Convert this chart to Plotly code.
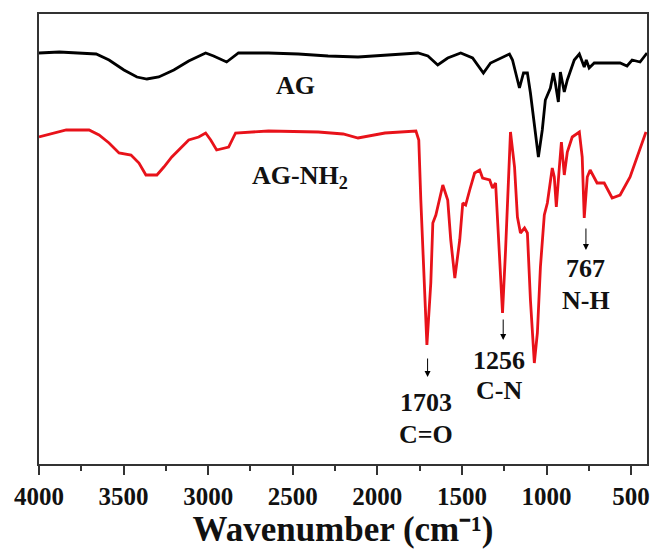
import plotly.graph_objects as go

# AG spectrum (wavenumber, relative transmittance, a.u.)
ag_wn = [4000, 3880, 3662, 3586, 3498, 3421, 3362, 3292, 3203, 3115, 3015, 2968, 2891, 2821,
         2644, 2467, 2291, 2114, 1937, 1760, 1701, 1643, 1584, 1507, 1437, 1373, 1331, 1272,
         1219, 1201, 1172, 1160, 1136, 1113, 1095, 1072, 1048, 1025, 1007, 977, 960, 948, 930,
         918, 895, 877, 836, 806, 777, 765, 748, 718, 641, 565, 524, 494, 447, 406]
ag_y = [411, 412, 410, 404, 394, 387, 385, 387, 394, 403, 411, 408, 402, 411,
        411, 410, 408, 407, 409, 411, 408, 399, 406, 411, 406, 391, 401, 406,
        410, 404, 384, 376, 391, 391, 371, 337, 307, 334, 364, 376, 391, 381, 362,
        392, 372, 384, 404, 410, 397, 404, 396, 401, 401, 401, 398, 404, 402, 411]

# AG-NH2 spectrum
nh2_wn = [4000, 3935, 3839, 3704, 3645, 3586, 3527, 3456, 3409, 3368, 3303, 3262, 3215, 3115,
          3056, 3015, 2985, 2950, 2879, 2838, 2644, 2349, 2202, 2114, 2026, 1955, 1772, 1755,
          1743, 1719, 1707, 1684, 1672, 1654, 1613, 1584, 1566, 1542, 1513, 1495, 1478, 1454,
          1425, 1395, 1378, 1336, 1319, 1301, 1278, 1260, 1242, 1224, 1213, 1189, 1172, 1154,
          1130, 1113, 1095, 1072, 1054, 1036, 1013, 995, 966, 954, 942, 924, 912, 895, 877,
          848, 806, 789, 777, 759, 742, 701, 659, 612, 565, 506, 447, 412]
nh2_y = [327, 330, 334, 334, 329, 321, 311, 309, 301, 289, 289, 297, 307, 324,
         327, 331, 324, 314, 317, 331, 333, 332, 330, 326, 329, 331, 333, 324,
         264, 177, 119, 181, 241, 249, 279, 264, 224, 186, 224, 261, 259, 274,
         291, 294, 286, 284, 276, 281, 214, 151, 214, 297, 332, 297, 247, 231,
         236, 231, 164, 101, 131, 197, 249, 261, 296, 287, 257, 297, 322, 289, 312,
         327, 332, 307, 246, 287, 294, 281, 281, 266, 269, 287, 314, 332]

# Peak annotations
peak_nums = ["1703", "1256", "767"]
peak_bonds = ["C=O", "C-N", "N-H"]
peak_x = [1703, 1256, 767]
arrow_tail = [107, 146, 237]
arrow_head = [87, 124, 214]
label_x = [1713, 1283, 767]
num_y = [62, 104, 196]
bond_y = [30, 74, 164]

font_family = "Liberation Serif"

fig = go.Figure()
fig.add_trace(go.Scatter(x=ag_wn, y=ag_y, mode="lines",
                         line=dict(color="#000000", width=2.8), showlegend=False))
fig.add_trace(go.Scatter(x=nh2_wn, y=nh2_y, mode="lines",
                         line=dict(color="#e8121a", width=2.8), showlegend=False))

ann = []
ann.append(dict(x=2485, y=379, text="<b>AG</b>", showarrow=False,
                font=dict(family=font_family, size=26, color="#111")))
ann.append(dict(x=2460, y=287, text="<b>AG-NH<sub>2</sub></b>", showarrow=False,
                font=dict(family=font_family, size=26, color="#111")))
for i in range(len(peak_x)):
    ann.append(dict(x=peak_x[i], y=arrow_head[i], ax=peak_x[i], ay=arrow_tail[i],
                    xref="x", yref="y", axref="x", ayref="y", text="",
                    showarrow=True, arrowhead=2, arrowsize=1.2, arrowwidth=1,
                    arrowcolor="#000"))
    ann.append(dict(x=label_x[i], y=num_y[i], text="<b>" + peak_nums[i] + "</b>",
                    showarrow=False, font=dict(family=font_family, size=26, color="#111")))
    ann.append(dict(x=label_x[i], y=bond_y[i], text="<b>" + peak_bonds[i] + "</b>",
                    showarrow=False, font=dict(family=font_family, size=26, color="#111")))

fig.update_layout(
    width=655, height=550,
    margin=dict(l=39, r=5, t=14, b=86),
    paper_bgcolor="white", plot_bgcolor="white",
    annotations=ann,
    xaxis=dict(
        range=[4000, 406], autorange=False,
        tickvals=[4000, 3500, 3000, 2500, 2000, 1500, 1000, 500],
        ticktext=["<b>4000</b>", "<b>3500</b>", "<b>3000</b>", "<b>2500</b>",
                  "<b>2000</b>", "<b>1500</b>", "<b>1000</b>", "<b>500</b>"],
        ticks="outside", ticklen=9, tickwidth=1.5, tickcolor="#333",
        minor=dict(dtick=250, tick0=0, ticks="outside", ticklen=5, tickwidth=1.5, tickcolor="#333"),
        showline=True, linecolor="#333", linewidth=1.5, mirror=True,
        showgrid=False, zeroline=False,
        tickfont=dict(family=font_family, size=25, color="#111"),
        title=dict(text="<b>Wavenumber (cm⁻¹)</b>",
                   font=dict(family=font_family, size=35, color="#111"), standoff=4),
    ),
    yaxis=dict(
        range=[0, 450], autorange=False,
        showticklabels=False, ticks="",
        showline=True, linecolor="#333", linewidth=1.5, mirror=True,
        showgrid=False, zeroline=False,
    ),
)

fig.write_html("out.html")
